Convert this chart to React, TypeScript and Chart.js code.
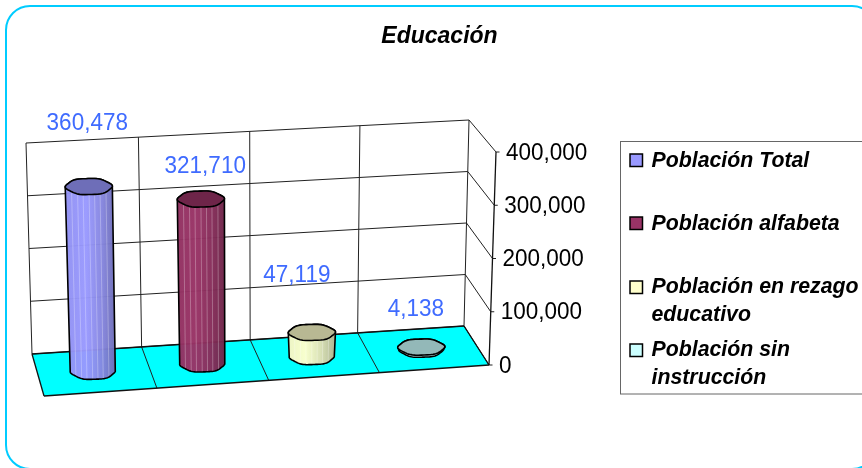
import React, { useEffect, useRef } from "react";
import { Chart, registerables } from "chart.js";

Chart.register(...registerables);

const categories = ["Población Total", "Población alfabeta", "Población en rezago educativo", "Población sin instrucción"];
const values = [360478, 321710, 47119, 4138];
const seriesColors = ["#9999FF", "#993366", "#FFFFCC", "#CCFFFF"];
const legendLines = [["Población Total"], ["Población alfabeta"], ["Población en rezago", "educativo"], ["Población sin", "instrucción"]];
const titleText = "Educación";
const axisMax = 400000;
const axisStep = 100000;

const LABEL_OFFSET = [[-1.5, -57], [4.4, -26], [-15, -50], [-5.5, -31]];
const LEGEND_SWATCH_Y = [154, 217, 281, 344];
const LEGEND_BASE_Y = [167, 230, 293, 356];
const FONT = '"Liberation Sans", Arial, sans-serif';

type P = [number, number];
const lerp = (a: P, b: P, t: number): P => [a[0] + (b[0] - a[0]) * t, a[1] + (b[1] - a[1]) * t];
const warp = (u: number) => u + 0.02 * u * (1 - u);
const line = (c: CanvasRenderingContext2D, a: P, b: P) => { c.beginPath(); c.moveTo(a[0], a[1]); c.lineTo(b[0], b[1]); c.stroke(); };

const BL: P = [32, 354], BLT: P = [26, 143], BR: P = [464, 326], BRT: P = [469, 120], FL: P = [44, 396], FR: P = [489, 365], FRT: P = [496, 152];

function shade(hex: string, f: number) {
  const n = parseInt(hex.slice(1), 16);
  const ch = (s: number) => Math.round(((n >> s) & 255) * f);
  return `rgb(${ch(16)},${ch(8)},${ch(0)})`;
}

function lump(c: Path2D, x: number, y: number, rx: number, ry: number, from = 0, to = Math.PI * 2, first = true) {
  const steps = 48;
  for (let i = 0; i <= steps; i++) {
    const a = from + ((to - from) * i) / steps;
    const k = 1 + 0.03 * Math.cos(a * 6 + 0.6);
    const px = x + Math.cos(a) * rx * k, py = y + Math.sin(a) * ry * k;
    if (i === 0 && first) c.moveTo(px, py); else c.lineTo(px, py);
  }
}

// Draws text slightly stretched in height, as in the scaled source picture.
function tallText(c: CanvasRenderingContext2D, text: string, x: number, y: number, sy = 1.1) {
  c.save();
  c.translate(x, y);
  c.scale(1, sy);
  c.fillText(text, 0, 0);
  c.restore();
}

const scene = {
  id: "scene",
  beforeDraw(chart: any) {
    const c = chart.ctx as CanvasRenderingContext2D;
    c.save();
    c.fillStyle = "#fff";
    c.fillRect(0, 0, chart.width, chart.height);
    c.strokeStyle = "#00CCFF";
    c.lineWidth = 2;
    c.beginPath();
    c.roundRect(6, 6, 870, 463, 24);
    c.stroke();
    c.restore();
  },
  beforeDatasetsDraw(chart: any) {
    const c = chart.ctx as CanvasRenderingContext2D;
    const y = chart.scales.y;
    const frac = (v: number) => (y.getPixelForValue(0) - y.getPixelForValue(v)) / (y.getPixelForValue(0) - y.getPixelForValue(axisMax));
    c.save();
    c.fillStyle = "#00FFFF";
    c.beginPath();
    [BL, BR, FR, FL].forEach((p, i) => (i ? c.lineTo(p[0], p[1]) : c.moveTo(p[0], p[1])));
    c.closePath();
    c.fill();
    c.strokeStyle = "#222";
    c.lineWidth = 1;
    y.ticks.forEach((t: any) => {
      const f = frac(t.value);
      const l = lerp(BL, BLT, f), r = lerp(BR, BRT, f), a = lerp(FR, FRT, f);
      line(c, l, r);
      line(c, r, a);
      line(c, a, [a[0] + 3.5, a[1]]);
    });
    const n = chart.data.labels.length;
    for (let i = 0; i <= n; i++) {
      const u = warp(i / n);
      line(c, lerp(BL, BR, u), lerp(BLT, BRT, u));
      if (i > 0 && i < n) line(c, lerp(BL, BR, u), lerp(FL, FR, u));
    }
    c.lineWidth = 1.3;
    c.strokeStyle = "#111";
    line(c, BL, BR); line(c, BL, FL); line(c, FL, FR); line(c, BR, FR);
    line(c, FR, FRT);
    c.restore();
    c.save();
    c.fillStyle = "#000";
    c.font = `22.5px ${FONT}`;
    c.textBaseline = "alphabetic";
    c.textAlign = "left";
    y.ticks.forEach((t: any) => {
      const a = lerp(FR, FRT, frac(t.value));
      tallText(c, t.label, a[0] + 10, a[1] + 7.5);
    });
    c.restore();
  },
  beforeDatasetDraw() { return false; },
  afterDatasetsDraw(chart: any) {
    const c = chart.ctx as CanvasRenderingContext2D;
    const meta = chart.getDatasetMeta(0);
    const slope = (BR[1] + FR[1] - BL[1] - FL[1]) / (BR[0] + FR[0] - BL[0] - FL[0]);
    const y0 = (BL[1] + FL[1]) / 2, x0 = (BL[0] + FL[0]) / 2;
    const x1 = (BR[0] + FR[0]) / 2;
    meta.data.forEach((el: any, i: number) => {
      const h = el.base - el.y;
      const bx = el.x, by = y0 + (bx - x0) * slope;
      const lean = h * (-0.028 + (0.052 * (bx - x0)) / (x1 - x0));
      const tx = bx + lean, ty = by - h;
      const rxB = 22, rxT = 23, ry = 8.2;
      const col = seriesColors[i];
      c.save();
      const body = new Path2D();
      lump(body, bx, by, rxB, ry, 0, Math.PI);
      lump(body, tx, ty, rxT, ry, Math.PI, Math.PI * 2, false);
      body.closePath();
      const g = c.createLinearGradient(bx - rxB, 0, bx + rxB, 0);
      g.addColorStop(0, shade(col, 0.96));
      g.addColorStop(0.35, shade(col, 1));
      g.addColorStop(0.7, shade(col, 0.88));
      g.addColorStop(1, shade(col, 0.72));
      c.fillStyle = g;
      c.save();
      c.globalAlpha = 0.97;
      c.fill(body);
      c.restore();
      c.save();
      c.clip(body);
      c.strokeStyle = "rgba(255,255,255,0.28)";
      c.lineWidth = 1;
      [0.12, 0.25, 0.37, 0.5, 0.62, 0.74, 0.87].forEach((s) => {
        const xa = bx - rxB + 2 * rxB * s, xb = tx - rxT + 2 * rxT * s;
        line(c, [xa, by + ry + 2], [xb, ty - ry]);
      });
      c.restore();
      c.strokeStyle = "#000";
      c.lineWidth = 1.6;
      c.lineJoin = "round";
      c.stroke(body);
      const cap = new Path2D();
      lump(cap, tx, ty, rxT, ry);
      cap.closePath();
      c.fillStyle = shade(col, 0.72);
      c.fill(cap);
      c.stroke(cap);
      c.restore();
      c.save();
      c.fillStyle = "#3F6BFF";
      c.font = `22.5px ${FONT}`;
      c.textAlign = "center";
      c.textBaseline = "alphabetic";
      tallText(c, values[i].toLocaleString("en-US"), tx + LABEL_OFFSET[i][0], ty + LABEL_OFFSET[i][1]);
      c.restore();
    });
  },
  afterDraw(chart: any) {
    const c = chart.ctx as CanvasRenderingContext2D;
    c.save();
    c.fillStyle = "#fff";
    c.strokeStyle = "#666";
    c.lineWidth = 1;
    c.fillRect(620.5, 141.5, 260, 252.5);
    c.strokeRect(620.5, 141.5, 260, 252.5);
    legendLines.forEach((lines, i) => {
      c.fillStyle = seriesColors[i];
      c.strokeStyle = "#000";
      c.lineWidth = 1.5;
      c.fillRect(630, LEGEND_SWATCH_Y[i], 12.5, 12.5);
      c.strokeRect(630, LEGEND_SWATCH_Y[i], 12.5, 12.5);
      c.fillStyle = "#000";
      c.font = `italic bold 21.3px ${FONT}`;
      c.textAlign = "left";
      c.textBaseline = "alphabetic";
      lines.forEach((t, j) => tallText(c, t, 651.5, LEGEND_BASE_Y[i] + j * 28, 1.05));
    });
    c.restore();
  },
};

export default function App() {
  const ref = useRef<HTMLCanvasElement | null>(null);
  useEffect(() => {
    document.body.style.margin = "0";
    const chart = new Chart(ref.current!, {
      type: "bar",
      data: {
        labels: categories,
        datasets: [{ label: "Educación", data: values, backgroundColor: seriesColors, categoryPercentage: 0.4, barPercentage: 1 }],
      },
      plugins: [scene],
      options: {
        animation: false,
        responsive: false,
        layout: { padding: { left: 17, right: 0, top: 0, bottom: 103 } },
        plugins: {
          legend: { display: false },
          tooltip: { enabled: false },
          title: {
            display: true,
            text: titleText,
            color: "#000",
            font: { family: FONT, size: 23, weight: "bold", style: "italic" },
            padding: { top: 23, bottom: 152 - 23 - 27.6 },
          },
        },
        scales: {
          x: { grid: { display: false }, border: { display: false }, ticks: { display: false } },
          y: {
            position: "right",
            min: 0,
            max: axisMax,
            grid: { display: false },
            border: { display: false },
            ticks: { stepSize: axisStep, display: false, callback: (v: any) => Number(v).toLocaleString("en-US") },
            afterFit: (s: any) => { s.width = 386; },
          },
          pad: {
            position: "left",
            min: 0,
            max: 1,
            grid: { display: false },
            border: { display: false },
            ticks: { display: false },
            afterFit: (s: any) => { s.width = 21; },
          },
        },
      },
    } as any);
    return () => chart.destroy();
  }, []);
  return (
    <div style={{ position: "absolute", left: 0, top: 0, width: 862, height: 468, overflow: "hidden" }}>
      <canvas ref={ref} width={862} height={468} style={{ display: "block" }} />
    </div>
  );
}
